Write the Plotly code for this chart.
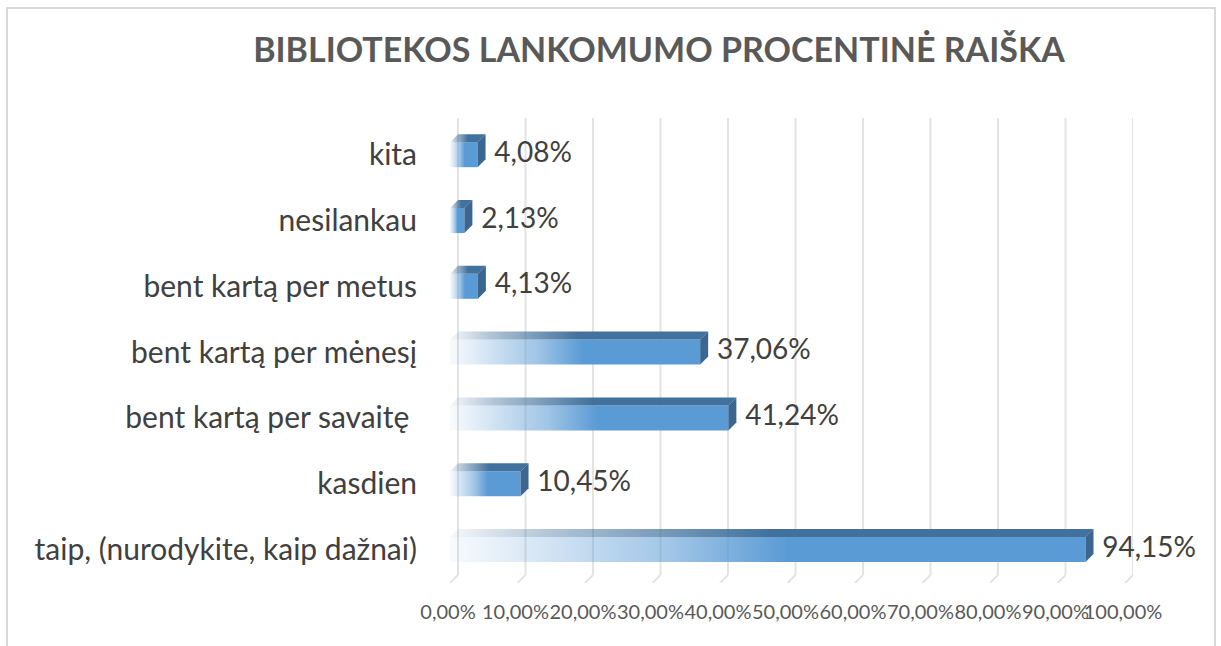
import plotly.graph_objects as go

# ---- data ----
categories = [
    "taip, (nurodykite, kaip dažnai)",
    "kasdien",
    "bent kartą per savaitę ",
    "bent kartą per mėnesį",
    "bent kartą per metus",
    "nesilankau",
    "kita",
]
values = [94.15, 10.45, 41.24, 37.06, 4.13, 2.13, 4.08]
x_ticks = [0, 10, 20, 30, 40, 50, 60, 70, 80, 90, 100]
x_tick_labels = [f"{t:.2f}".replace(".", ",") + "%" for t in x_ticks]
title_text = "BIBLIOTEKOS LANKOMUMO PROCENTINĖ RAIŠKA"

# ---- layout geometry (pixels) ----
W, H = 1221, 646
PLOT_L, PLOT_R = 450, 1133
PLOT_T, PLOT_B = 118, 583
PX_PER_CAT = 65.8
FRONT_C0 = 549.5           # pixel y of first category's front-face centre
DEPTH_PX = 8               # 3D depth (both x and y)
BAR_PX = 25                # front face height

x_unit = 100 / (PLOT_R - PLOT_L - DEPTH_PX)   # data units per px in x
dx = DEPTH_PX * x_unit
dy = DEPTH_PX / PX_PER_CAT
h = BAR_PX / PX_PER_CAT

y_top = (FRONT_C0 - PLOT_T) / PX_PER_CAT
y_bot = -(PLOT_B - FRONT_C0) / PX_PER_CAT
back_floor = y_bot + dy

SIDE = "rgb(58,102,144)"

fig = go.Figure()

for i, v in enumerate(values):
    c = i
    # front face (gradient)
    fig.add_trace(go.Scatter(
        x=[-dx, v - dx, v - dx, -dx, -dx],
        y=[c - h / 2, c - h / 2, c + h / 2, c + h / 2, c - h / 2],
        mode="lines", line=dict(width=0), fill="toself",
        fillgradient=dict(type="horizontal", colorscale=[
            [0, "rgba(91,155,213,0.04)"],
            [0.12, "rgba(91,155,213,0.22)"],
            [0.35, "rgba(91,155,213,0.58)"],
            [0.53, "rgba(91,155,213,1)"],
            [1, "rgba(91,155,213,1)"],
        ]),
        hoverinfo="skip", showlegend=False,
    ))
    # top face
    fig.add_trace(go.Scatter(
        x=[-dx, v - dx, v, 0, -dx],
        y=[c + h / 2, c + h / 2, c + h / 2 + dy, c + h / 2 + dy, c + h / 2],
        mode="lines", line=dict(width=0), fill="toself",
        fillgradient=dict(type="horizontal", colorscale=[
            [0, "rgba(65,113,156,0.05)"],
            [0.15, "rgba(65,113,156,0.4)"],
            [0.5, "rgba(65,113,156,1)"],
            [1, "rgba(65,113,156,1)"],
        ]),
        hoverinfo="skip", showlegend=False,
    ))
    # side face
    fig.add_trace(go.Scatter(
        x=[v - dx, v, v, v - dx, v - dx],
        y=[c - h / 2, c - h / 2 + dy, c + h / 2 + dy, c + h / 2, c - h / 2],
        mode="lines", line=dict(width=0), fill="toself", fillcolor=SIDE,
        hoverinfo="skip", showlegend=False,
    ))

# data labels
fig.add_trace(go.Scatter(
    x=[v + 1.3 for v in values],
    y=list(range(len(values))),
    mode="text",
    text=[f"{v:.2f}".replace(".", ",") + "%" for v in values],
    textposition="middle right",
    textfont=dict(family="Lato", size=28, color="#404040"),
    cliponaxis=False,
    hoverinfo="skip", showlegend=False,
))

shapes = []
# gridlines with 3D floor
for t in x_ticks:
    shapes.append(dict(type="line", xref="x", yref="y", x0=t, x1=t,
                       y0=back_floor, y1=y_top, layer="below",
                       line=dict(color="#E3E3E3", width=2)))
    shapes.append(dict(type="line", xref="x", yref="y", x0=t, x1=t - dx,
                       y0=back_floor, y1=y_bot, layer="below",
                       line=dict(color="#E3E3E3", width=2)))

# outer chart border (paper coords from pixels)
pw, ph = PLOT_R - PLOT_L, PLOT_B - PLOT_T
def px_x(p): return (p - PLOT_L) / pw
def px_y(p): return (PLOT_B - p) / ph
shapes.append(dict(type="rect", xref="paper", yref="paper",
                   x0=px_x(7), x1=px_x(1215), y0=px_y(680), y1=px_y(8),
                   line=dict(color="#D9D9D9", width=2), layer="below"))

fig.update_layout(
    width=W, height=H,
    margin=dict(l=PLOT_L, r=W - PLOT_R, t=PLOT_T, b=H - PLOT_B, pad=0),
    paper_bgcolor="white", plot_bgcolor="white",
    title=dict(text=f"<b>{title_text}</b>", x=px_x(659), xref="paper",
               xanchor="center", y=1 - 50 / H, yref="container", yanchor="middle",
               font=dict(family="Lato", size=34, color="#595959")),
    xaxis=dict(range=[-dx, 100], showgrid=False, zeroline=False, showline=False,
               tickmode="array", tickvals=x_ticks, ticktext=x_tick_labels,
               tickangle=0, ticklabelshift=-10, ticklabelstandoff=15,
               tickfont=dict(family="Lato", size=20, color="#595959"),
               fixedrange=True),
    yaxis=dict(range=[y_bot, y_top], showgrid=False, zeroline=False, showline=False,
               tickvals=list(range(len(categories))), ticktext=categories,
               ticklabelstandoff=32,
               tickfont=dict(family="Lato", size=30, color="#404040"),
               fixedrange=True),
    shapes=shapes,
    hovermode=False,
)

fig.write_html("out.html",
               config={"displayModeBar": False},
               post_script="document.body.style.margin='0';document.body.style.overflow='hidden';")
